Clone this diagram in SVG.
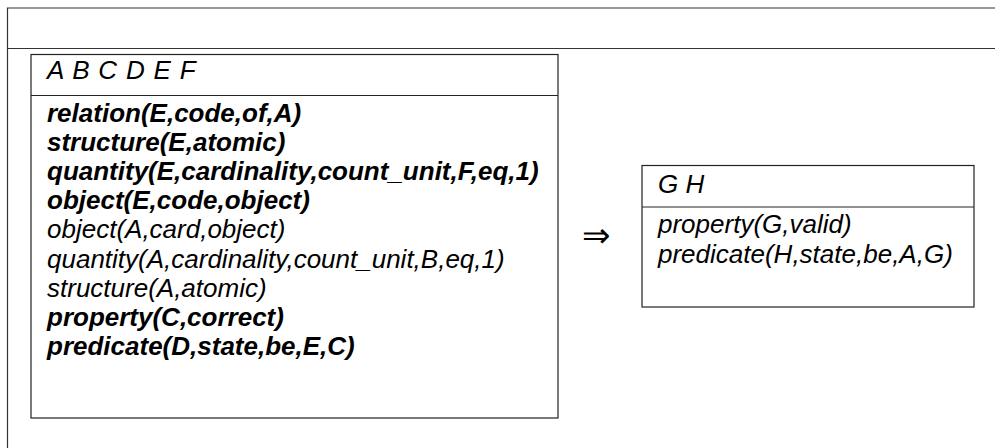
<svg xmlns="http://www.w3.org/2000/svg" width="995" height="448" viewBox="0 0 995 448">
<style>
.frame{fill:none;stroke:#333;stroke-width:1.2}
.box{fill:#fff;stroke:#222;stroke-width:1.2}
.sep{stroke:#222;stroke-width:1.2}
text{font-family:"Liberation Sans",Arial,Helvetica,sans-serif;font-size:26px;font-style:italic;fill:#000}
.b{font-weight:bold}
.arrow{font-family:"DejaVu Sans",sans-serif;font-style:normal;font-weight:200;font-size:34px}
</style>
<rect width="995" height="448" fill="#fff"/>
<g id="frame">
<path class="frame" d="M7.5 448 V8 H995 M7.5 48.5 H995"/>
</g>
<g id="lhs">
<rect class="box" x="31" y="54.5" width="527" height="363.5"/>
<line class="sep" x1="31" y1="95.5" x2="558" y2="95.5"/>
<text x="47" y="79" letter-spacing="0.8">A B C D E F</text>
<text class="b" x="47" y="122">relation(E,code,of,A)</text>
<text class="b" x="47" y="151.1">structure(E,atomic)</text>
<text class="b" x="47" y="180.2">quantity(E,cardinality,count_unit,F,eq,1)</text>
<text class="b" x="47" y="209.3">object(E,code,object)</text>
<text x="47" y="238.4">object(A,card,object)</text>
<text x="47" y="267.5">quantity(A,cardinality,count_unit,B,eq,1)</text>
<text x="47" y="296.6">structure(A,atomic)</text>
<text class="b" x="47" y="325.7">property(C,correct)</text>
<text class="b" x="47" y="354.8">predicate(D,state,be,E,C)</text>
</g>
<g id="connectors">
<text class="arrow" x="596" y="247" text-anchor="middle">⇒</text>
</g>
<g id="rhs">
<rect class="box" x="642" y="165.5" width="332" height="141.5"/>
<line class="sep" x1="642" y1="207" x2="974" y2="207"/>
<text x="658" y="193">G H</text>
<text x="658" y="233">property(G,valid)</text>
<text x="658" y="263">predicate(H,state,be,A,G)</text>
</g>
</svg>
